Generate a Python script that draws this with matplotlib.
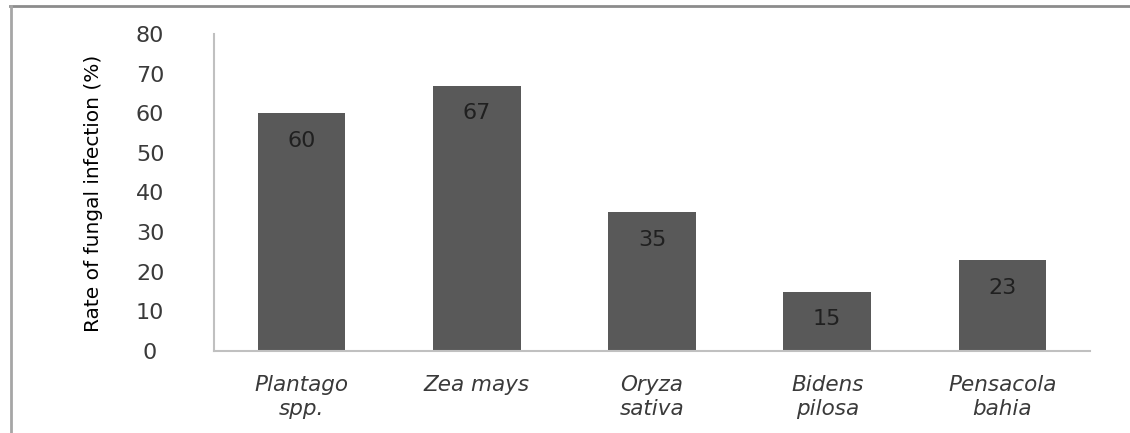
import matplotlib
matplotlib.use("Agg")
import matplotlib.pyplot as plt
from matplotlib.lines import Line2D

categories = ["Plantago\nspp.", "Zea mays", "Oryza\nsativa", "Bidens\npilosa", "Pensacola\nbahia"]
values = [60, 67, 35, 15, 23]
yticks = [0, 10, 20, 30, 40, 50, 60, 70, 80]

plt.rcParams['font.family'] = ['DejaVu Sans']

fig = plt.figure(figsize=(11.30, 4.33), dpi=100)
ax = fig.add_axes([214/1130, 1-351/433, (1090-214)/1130, (351-34)/433])

x = list(range(len(categories)))
bars = ax.bar(x, values, width=0.5, color='#595959', zorder=2)
for xi, v in zip(x, values):
    ax.annotate(str(v), xy=(xi, v), xytext=(0, -20), textcoords='offset points',
                ha='center', va='center', fontsize=16, color='#202020')

ax.set_xlim(-0.5, 4.5)
ax.set_ylim(0, 80)
ax.set_yticks(yticks)
ax.set_yticklabels([str(t) for t in yticks])
ax.set_xticks(x)
ax.set_xticklabels(categories, fontstyle='italic', fontsize=15.5, color='#3a3a3a', linespacing=1.3)

ax.tick_params(axis='y', length=0, pad=46, labelsize=16, labelcolor='#3a3a3a')
ax.tick_params(axis='x', length=0, pad=17)
for lab in ax.get_yticklabels():
    lab.set_horizontalalignment('center')

for s in ['top', 'right']:
    ax.spines[s].set_visible(False)
for s in ['left', 'bottom']:
    ax.spines[s].set_color('#c0c0c0')
    ax.spines[s].set_linewidth(1.5)

fig.text(94/1130, 1-193/433, "Rate of fungal infection (%)", rotation=90,
         ha='center', va='center', fontsize=14.5, color='#000000')

# outer frame (top and left)
fig.add_artist(Line2D([10/1130, 1.0], [1-6/433, 1-6/433], transform=fig.transFigure,
                      color='#8c8c8c', lw=2))
fig.add_artist(Line2D([11/1130, 11/1130], [1-6/433, 0.0], transform=fig.transFigure,
                      color='#a6a6a6', lw=2))

fig.savefig("out.png", dpi=100)
